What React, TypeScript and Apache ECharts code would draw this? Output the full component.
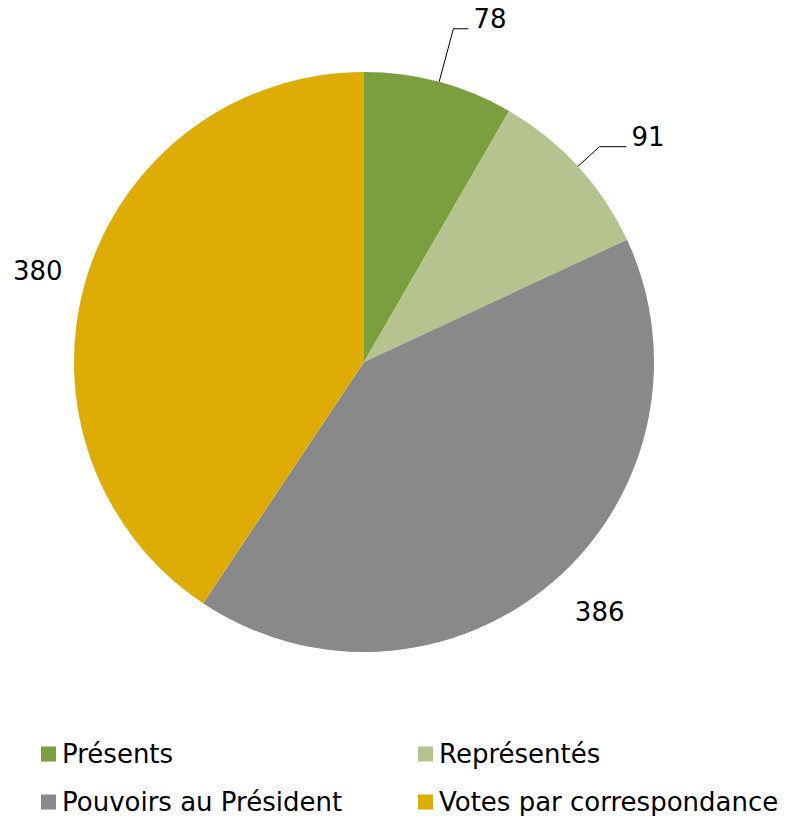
import React, { useEffect, useRef } from "react";
import * as echarts from "echarts";

const categories = ["Présents", "Représentés", "Pouvoirs au Président", "Votes par correspondance"];
const values = [78, 91, 386, 380];
const colors = ["#7B9F3E", "#B5C38E", "#898989", "#DEAD05"];

const FONT = "DejaVu Sans, Verdana, sans-serif";

export default function App() {
  const ref = useRef<HTMLDivElement>(null);
  useEffect(() => {
    document.body.style.margin = "0";
    if (!ref.current) return;
    const chart = echarts.init(ref.current, undefined, { renderer: "svg" });
    const labelCfg = [
      { length: 55, length2: 15, show: true, raised: true, dist: 5 },
      { length: 29, length2: 27, show: true, raised: true, dist: 5 },
      { length: 40, length2: 0, show: false, raised: false, dist: -4 },
      { length: 25, length2: 0, show: false, raised: false, dist: 0 },
    ];
    const legendPos = [
      { left: 36, top: 736 },
      { left: 413, top: 736 },
      { left: 36, top: 784 },
      { left: 413, top: 784 },
    ];
    chart.setOption({
      animation: false,
      backgroundColor: "#ffffff",
      color: colors,
      legend: categories.map((c, i) => ({
        data: [c],
        left: legendPos[i].left,
        top: legendPos[i].top,
        icon: "rect",
        itemWidth: 15,
        itemHeight: 15,
        itemGap: 0,
        selectedMode: false,
        textStyle: {
          fontFamily: FONT,
          fontSize: 26,
          color: "#000",
          lineHeight: 26,
          padding: [0, 0, 0, 1],
        },
      })),
      series: [
        {
          type: "pie",
          center: [364, 362],
          radius: 290,
          startAngle: 90,
          clockwise: true,
          avoidLabelOverlap: false,
          emphasis: { disabled: true },
          label: {
            show: true,
            position: "outside",
            fontFamily: FONT,
            fontSize: 26,
            color: "#000",
            rich: {
              v: { fontFamily: FONT, fontSize: 26, lineHeight: 26, color: "#000" },
              s: { fontSize: 10, lineHeight: 20 },
            },
          },
          labelLine: { lineStyle: { color: "#000", width: 1 } },
          data: categories.map((name, i) => ({
            name,
            value: values[i],
            itemStyle: { color: colors[i] },
            label: {
              formatter: labelCfg[i].raised ? "{v|{c}}\n{s| }" : "{v|{c}}",
              distanceToLabelLine: labelCfg[i].dist,
            },
            labelLine: {
              show: labelCfg[i].show,
              length: labelCfg[i].length,
              length2: labelCfg[i].length2,
            },
          })),
        },
      ],
    });
    return () => chart.dispose();
  }, []);
  return <div ref={ref} style={{ width: 791, height: 816 }} />;
}
